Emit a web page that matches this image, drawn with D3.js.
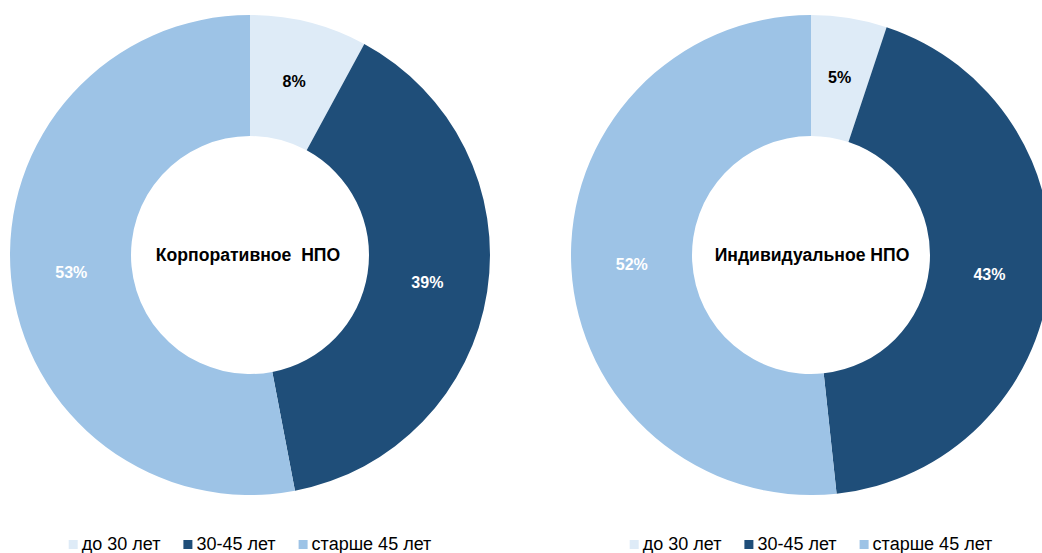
<!DOCTYPE html>
<html>
<head>
<meta charset="utf-8">
<script src="https://cdn.jsdelivr.net/npm/d3@7"></script>
<style>
  body { margin: 0; background: #fff; }
  svg { display: block; font-family: "Liberation Sans", Arial, sans-serif; }
</style>
</head>
<body>
<svg id="chart" width="1042" height="553"></svg>
<script>
// data (shares, labels are rounded)
var categories = ["до 30 лет", "30-45 лет", "старше 45 лет"];
var corpValues = [7.9, 39.1, 53.0];
var indivValues = [5.1, 43.2, 51.7];
var titles = ["Корпоративное  НПО", "Индивидуальное НПО"];

var colors = ["#DEEBF7", "#1F4E79", "#9DC3E6"];
var labelColors = ["#000000", "#ffffff", "#ffffff"];

var svg = d3.select("#chart");

var outerR = 240, innerR = 119;
var centers = [{ x: 250, y: 255 }, { x: 811, y: 255 }];
var titleShift = [-2, 1];
var datasets = [corpValues, indivValues];

var pie = d3.pie().sort(null).value(function(d) { return d; });
var arc = d3.arc().innerRadius(innerR).outerRadius(outerR);

datasets.forEach(function(values, k) {
	var g = svg.append("g")
		.attr("transform", "translate(" + centers[k].x + "," + centers[k].y + ")");

	var arcs = pie(values);

	g.selectAll("path")
		.data(arcs)
		.enter().append("path")
			.attr("d", arc)
			.attr("fill", function(d, i) { return colors[i]; });

	g.selectAll("text.val")
		.data(arcs)
		.enter().append("text")
			.attr("class", "val")
			.attr("transform", function(d) { return "translate(" + arc.centroid(d) + ")"; })
			.attr("dy", "0.35em")
			.attr("text-anchor", "middle")
			.attr("font-size", 16)
			.attr("font-weight", "bold")
			.attr("fill", function(d, i) { return labelColors[i]; })
			.text(function(d) { return Math.round(d.data) + "%"; });

	g.append("text")
		.attr("text-anchor", "middle")
		.attr("dy", "0.35em")
		.attr("x", titleShift[k])
		.attr("font-size", 17.6)
		.attr("font-weight", "bold")
		.style("white-space", "pre")
		.text(titles[k]);

	// legend, centered under the donut
	var leg = svg.append("g");
	var xPos = 0;
	categories.forEach(function(c, i) {
		leg.append("rect")
			.attr("x", xPos)
			.attr("y", 540)
			.attr("width", 9)
			.attr("height", 9)
			.attr("fill", colors[i]);
		var t = leg.append("text")
			.attr("x", xPos + 13)
			.attr("y", 550)
			.attr("font-size", 18)
			.attr("fill", "#000")
			.text(c);
		xPos += 13 + t.node().getComputedTextLength() + 23;
	});
	var legW = xPos - 23;
	leg.attr("transform", "translate(" + (centers[k].x - legW / 2) + ",0)");
});
</script>
</body>
</html>
